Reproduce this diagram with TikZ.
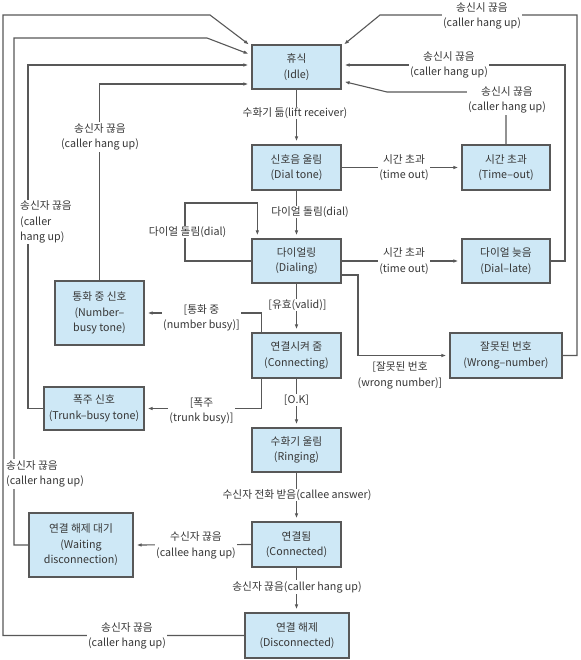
\documentclass[tikz,border=0pt]{standalone}
\usepackage{fontspec}
\setmainfont{Noto Sans CJK KR}
\usetikzlibrary{arrows.meta,calc}

\definecolor{boxblue}{RGB}{206,232,246}
\definecolor{linegray}{RGB}{88,88,88}
\definecolor{textgray}{RGB}{55,55,55}

\begin{document}
\begin{tikzpicture}[x=1pt, y=-1pt,
    state/.style={draw=linegray, fill=boxblue, line width=1.3pt, align=center,
        text=textgray, inner sep=1pt, font=\fontsize{10.7}{15.5}\selectfont},
    wire/.style={draw=linegray, line width=1.1pt},
    go/.style={wire, -{Latex[length=5pt,width=3.6pt]}, shorten >=3pt},
    lbl/.style={fill=white, inner sep=1pt, align=center, text=textgray,
        font=\fontsize{10.7}{15.5}\selectfont}]

    \useasboundingbox (0,0) rectangle (580,660);

    % ============================================================
    % STATES
    % ============================================================
    \node[state, minimum width=89pt, minimum height=44pt] (idle) at (296.5,67)
        {휴식\\(Idle)};
    \node[state, minimum width=89pt, minimum height=45pt] (dtone) at (296.5,167.5)
        {신호음 울림\\(Dial tone)};
    \node[state, minimum width=88pt, minimum height=45pt] (tout) at (506,167.5)
        {시간 초과\\(Time--out)};
    \node[state, minimum width=89pt, minimum height=44pt] (dialing) at (296.5,261)
        {다이얼링\\(Dialing)};
    \node[state, minimum width=88pt, minimum height=44pt] (late) at (506,261)
        {다이얼 늦음\\(Dial--late)};
    \node[state, minimum width=89pt, minimum height=64pt] (nbusy) at (99.5,313)
        {통화 중 신호\\(Number--\\busy tone)};
    \node[state, minimum width=89pt, minimum height=45pt] (conn) at (296.5,355.5)
        {연결시켜 줌\\(Connecting)};
    \node[state, minimum width=112pt, minimum height=45pt] (wrong) at (506,355.5)
        {잘못된 번호\\(Wrong--number)};
    \node[state, minimum width=100pt, minimum height=43pt] (trunk) at (94,408.5)
        {폭주 신호\\(Trunk--busy tone)};
    \node[state, minimum width=89pt, minimum height=44pt] (ring) at (296.5,450)
        {수화기 울림\\(Ringing)};
    \node[state, minimum width=104pt, minimum height=64pt] (wait) at (81,545)
        {연결 해제 대기\\(Waiting\\disconnection)};
    \node[state, minimum width=89pt, minimum height=45pt] (cnd) at (296.5,544.5)
        {연결됨\\(Connected)};
    \node[state, minimum width=104pt, minimum height=45pt] (disc) at (297,635.5)
        {연결 해제\\(Disconnected)};

    % ============================================================
    % MAIN CALL SEQUENCE
    % ============================================================
    \draw[go] (idle) -- (dtone);
    \draw[go] (dtone.east) -- (tout.west);
    \draw[go] (dtone) -- (dialing);
    \draw[go] (dialing.west) -| (185,203) -| ($(dialing.north west)+(6,0)$);
    \draw[go] (dialing.east) -- (late.west);
    \draw[go] (dialing) -- (conn);
    \draw[go] ($(dialing.east)+(0,14)$) -- (358,275) |- (wrong.west);
    \draw[go] ($(conn.north west)+(10,0)$) |- (nbusy.east);
    \draw[go] ($(conn.south west)+(10,0)$) |- (trunk.east);
    \draw[go] (conn) -- (ring);
    \draw[go] (ring) -- (cnd);
    \draw[go] (cnd.west) -- (wait.east);
    \draw[go] (cnd.south) -- (cnd.south |- disc.north);

    % ============================================================
    % HANG UP, BACK TO IDLE (LEFT)
    % ============================================================
    \draw[go] (disc.west) -| (3,15) -- (210,15) -- ($(idle.north west)+(0,2)$);
    \draw[go] (wait.west) -| (14,38) -- (207,38) -- ($(idle.west)+(0,-12)$);
    \draw[go] (trunk.west) -| (28,65) -- ($(idle.west)+(0,-2)$);
    \draw[go] (nbusy.north) |- ($(idle.west)+(0,17)$);

    % ============================================================
    % HANG UP, BACK TO IDLE (RIGHT)
    % ============================================================
    \draw[go] (wrong.east) -| (577,15) -- (380,15) -- ($(idle.north east)+(0,2)$);
    \draw[go] (late.east) -| (565,65) -- ($(idle.east)+(0,-2)$);
    \draw[go] (tout.north) |- (387,92) -- ($(idle.east)+(0,14)$);

    % ============================================================
    % TRANSITION LABELS
    % ============================================================
    \node[lbl] (lbLift) at (295,113) {수화기 듦(lift receiver)};
    \node[lbl] (lbDial) at (310,212) {다이얼 돌림(dial)};
    \node[lbl] (lbRedial) at (187.5,232) {다이얼 돌림(dial)};
    \node[lbl] (lbTout) at (404,167.5) {시간 초과\\(time out)};
    \node[lbl] (lbLate) at (404,261) {시간 초과\\(time out)};
    \node[lbl] (lbValid) at (297.5,305) {[유효(valid)]};
    \node[lbl] (lbBusy) at (201.5,318) {[통화 중\\(number busy)]};
    \node[lbl] (lbWrong) at (400,375.5) {[잘못된 번호\\(wrong number)]};
    \node[lbl] (lbTrunk) at (201.5,411) {[폭주\\(trunk busy)]};
    \node[lbl] (lbOk) at (296.5,400) {[O.K]};
    \node[lbl] (lbAnswer) at (297,495) {수신자 전화 받음(callee answer)};
    \node[lbl] (lbCallee) at (196,545.5) {수신자 끊음\\(callee hang up)};
    \node[lbl] (lbCaller) at (297,587) {송신자 끊음(caller hang up)};

    \node[lbl] (lbDisc) at (127,636) {송신자 끊음\\(caller hang up)};
    \node[lbl, anchor=west, align=left] (lbWait) at (5,474)
        {송신자 끊음\\(caller hang up)};
    \node[lbl, anchor=west, align=left] (lbTrunkUp) at (19,222)
        {송신자 끊음\\(caller\\hang up)};
    \node[lbl] (lbBusyUp) at (100,137) {송신자 끊음\\(caller hang up)};

    \node[lbl] (lbWrongUp) at (482,16) {송신시 끊음\\(caller hang up)};
    \node[lbl] (lbLateUp) at (449,65) {송신시 끊음\\(caller hang up)};
    \node[lbl] (lbToutUp) at (507,100) {송신시 끊음\\(caller hang up)};

\end{tikzpicture}
\end{document}
